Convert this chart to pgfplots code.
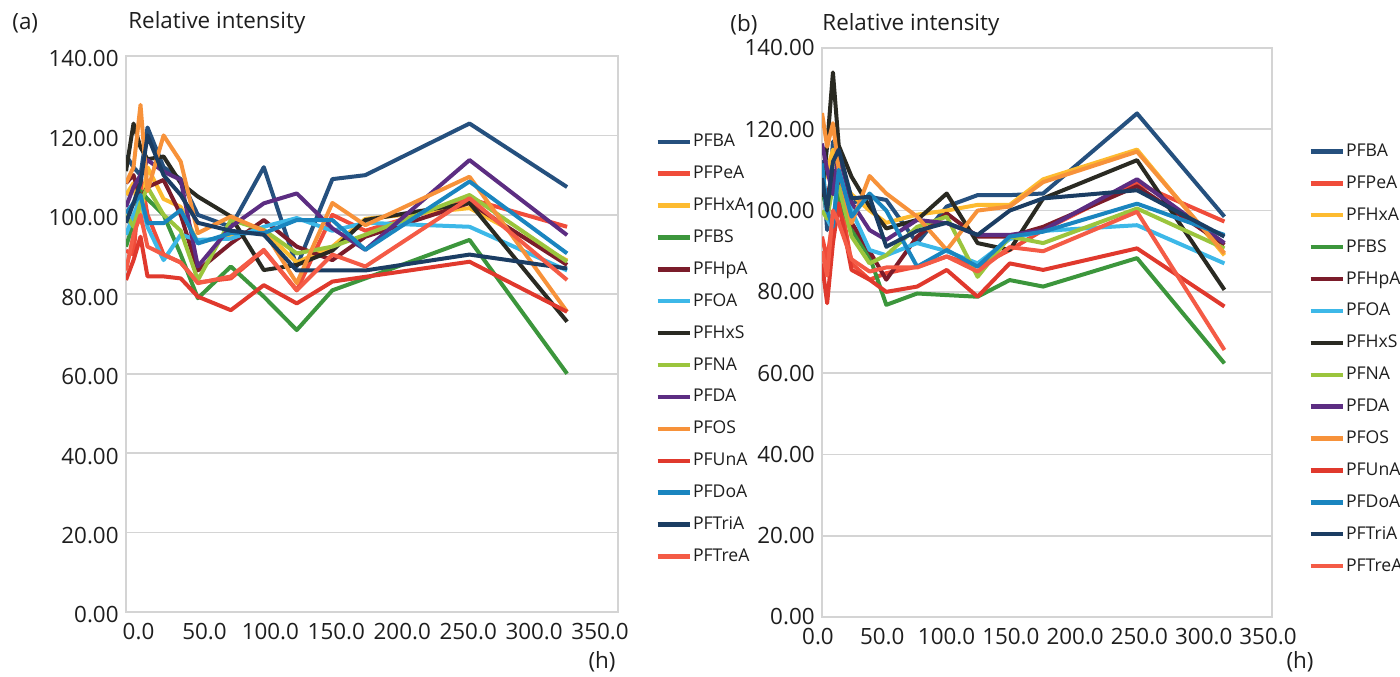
\documentclass[border=0pt]{standalone}
\usepackage{pgfplots}
\pgfplotsset{compat=1.18}
\usepackage{pgfplotstable}
\usepackage{fontspec}
\setmainfont{Open Sans}

\definecolor{cPFBA}{HTML}{25507E}
\definecolor{cPFPeA}{HTML}{F04C3A}
\definecolor{cPFHxA}{HTML}{FDBB30}
\definecolor{cPFBS}{HTML}{3C963C}
\definecolor{cPFHpA}{HTML}{7B1C2A}
\definecolor{cPFOA}{HTML}{3DB8E8}
\definecolor{cPFHxS}{HTML}{2A2A22}
\definecolor{cPFNA}{HTML}{9BC53D}
\definecolor{cPFDA}{HTML}{5C2D82}
\definecolor{cPFOS}{HTML}{F7923A}
\definecolor{cPFUnA}{HTML}{E0392D}
\definecolor{cPFDoA}{HTML}{1A85BF}
\definecolor{cPFTriA}{HTML}{1B3D63}
\definecolor{cPFTreA}{HTML}{F45B46}
\definecolor{gridgray}{HTML}{D4D4D4}
\definecolor{txt}{HTML}{1E1E1E}

\pgfplotstableread{
t PFBA PFPeA PFHxA PFBS PFHpA PFOA PFHxS PFNA PFDA PFOS PFUnA PFDoA PFTriA PFTreA
-9.5 115 91 105 92 108 95 111 100 102 108 83.6 100.4 98 86
-3.8 112 90 108 98 110 100 123 97 107 112 88.6 103 103 95
1.5 110 110 98 106 104 104 117 103 110 127.7 94.5 105 108 100
6.8 122 100 112 104 107 97 114 107 113.8 106 84.5 97.9 120 92
19 112 90 104 100 108.8 88.6 114.7 100 110.9 120 84.5 97.9 110 90
32 109 88 102 90 100 95 108 96 108.8 113.4 84 101.2 105 88
45 100 83 93 79 86 93.7 104.6 83.6 87 95.4 79.4 92.8 98 82.8
70 97 84 95 87 92.8 94 99.6 98.7 97 99.6 76 95.4 96 84.5
95 112 91 96 79.4 98.7 97 86.1 96.2 102.9 96 82.3 95.4 95 91.2
120 87 81 88 71 92 99.2 87.4 90.3 105.4 82.8 77.7 98.7 86 81
147 109 100 92 81 88.6 96 91 92 96.6 103 83.2 98.7 86 90
172 110 96 99 84 94.5 98 98.7 95 91.2 97.4 84.4 91.2 86 87
251 123 104 101.7 93.7 103 97 103 105 113.8 109.6 88.2 108.4 90 104.2
325 107 97 88.5 60 87.4 86 73.1 88.2 94.9 75.6 75.6 90.3 86.5 83.6
}\dataA

\pgfplotstableread{
t PFBA PFPeA PFHxA PFBS PFHpA PFOA PFHxS PFNA PFDA PFOS PFUnA PFDoA PFTriA PFTreA
0 112.4 93.6 106 105 105 110 103.4 100 116.5 124 87 111.6 108 90
4 95.2 88 110 100 103 98 116 98 110 115.7 77.2 100 100 84
8.5 117 98 115 108 110 95.2 134 106 104 121.5 92 96 112 100
13 110 105 108 103 107 112 116 106 114 110 101.8 110 115 97
23 101.8 87 104 95.2 97 100 108.3 93.6 102 96.9 85.4 98.5 103 88
37 103.4 83 100 88.7 90 90.3 101 87 95.2 108.5 83 104.2 103.4 85
50 102.6 84.6 97 76.8 83 89 95.6 89 92.8 104.2 80 100 91.1 86
74 92 86.2 99 79.6 93.6 92 97.7 96 97.7 98.5 81.3 86.2 95 86
97 101 88.7 100 79.2 99.3 90 104.2 98.5 96.9 90.3 85.4 90.3 97 88.7
121 103.8 86.2 101.4 78.8 93.6 87 92 83.7 94 100 78.8 86.2 94 85
146 103.8 90.3 101.4 82.9 93.6 93 90.3 93.6 94 101 87 93.6 100 91
172 104.2 95.2 107.7 81.3 96 95 103 92 95.2 107 85.4 94.8 103 90
245 123.9 106.7 115 88.3 106 96.4 112.4 100.5 107.7 114.5 90.7 101.7 105 99.7
313 98.5 97.3 89 62.4 91.6 87 80.5 90.7 92 89.5 76.4 94 93.6 65.7
}\dataB

\pgfplotsset{
  panel/.style={
    scale only axis,
    ymin=0, ymax=140,
    ytick={0,20,40,60,80,100,120,140},
    yticklabels={0.00,20.00,40.00,60.00,80.00,100.00,120.00,140.00},
    xtick={0,50,100,150,200,250,300,350},
    xticklabels={0.0,50.0,100.0,150.0,200.0,250.0,300.0,350.0},
    ymajorgrids,
    grid style={draw=gridgray, line width=0.9pt},
    axis line style={draw=gridgray, line width=0.9pt},
    major tick length=0pt,
    tick style={draw=none},
    tick label style={font=\fontsize{11.2}{13}\selectfont, text=txt},
    yticklabel style={inner sep=0pt, xshift=-3.5pt},
    xticklabel style={inner sep=0pt, yshift=-5.5pt},
    every axis plot/.append style={line width=2pt, line join=round, mark=none},
    legend cell align=left,
    legend image code/.code={\draw[##1, line width=2.2pt] (0pt,0pt) -- (16pt,0pt);},
    legend style={draw=none, fill=none, inner sep=0pt, row sep=6.75pt,
      font=\fontsize{8.8}{10}\selectfont, text=txt,
      nodes={inner sep=0.6pt, text height=6.5pt, text depth=1.5pt}},
  },
}

\newcommand{\plotall}[1]{%
  \addplot[cPFBA] table[x=t,y=PFBA]{#1};
  \addplot[cPFPeA] table[x=t,y=PFPeA]{#1};
  \addplot[cPFHxA] table[x=t,y=PFHxA]{#1};
  \addplot[cPFBS] table[x=t,y=PFBS]{#1};
  \addplot[cPFHpA] table[x=t,y=PFHpA]{#1};
  \addplot[cPFOA] table[x=t,y=PFOA]{#1};
  \addplot[cPFHxS] table[x=t,y=PFHxS]{#1};
  \addplot[cPFNA] table[x=t,y=PFNA]{#1};
  \addplot[cPFDA] table[x=t,y=PFDA]{#1};
  \addplot[cPFOS] table[x=t,y=PFOS]{#1};
  \addplot[cPFUnA] table[x=t,y=PFUnA]{#1};
  \addplot[cPFDoA] table[x=t,y=PFDoA]{#1};
  \addplot[cPFTriA] table[x=t,y=PFTriA]{#1};
  \addplot[cPFTreA] table[x=t,y=PFTreA]{#1};
  \legend{PFBA,PFPeA,PFHxA,PFBS,PFHpA,PFOA,PFHxS,PFNA,PFDA,PFOS,PFUnA,PFDoA,PFTriA,PFTreA}
}

\begin{document}
\begin{tikzpicture}
\begin{axis}[panel,
  at={(63pt,32pt)}, anchor=south west,
  width=246pt, height=278pt,
  xmin=-9.5, xmax=363.6,
  yticklabel style={yshift=-1.5pt},
  legend style={at={(1.0752,0.863)}, anchor=north west}]
\plotall{\dataA}
\end{axis}

\begin{axis}[panel,
  at={(411pt,29.5pt)}, anchor=south west,
  width=225pt, height=284.5pt,
  xmin=0, xmax=350,
  xticklabel style={xshift=-2pt},
  legend style={at={(1.08,0.835)}, anchor=north west}]
\plotall{\dataB}
\end{axis}

\node[anchor=west, text=txt, font=\fontsize{11.2}{13}\selectfont, inner sep=0pt] at (6pt,326.5pt) {(a)};
\node[anchor=west, text=txt, font=\fontsize{11.2}{13}\selectfont, inner sep=0pt] at (64pt,326.5pt) {Relative intensity};
\node[anchor=west, text=txt, font=\fontsize{11.2}{13}\selectfont, inner sep=0pt] at (365pt,325.5pt) {(b)};
\node[anchor=west, text=txt, font=\fontsize{11.2}{13}\selectfont, inner sep=0pt] at (411pt,325.5pt) {Relative intensity};
\node[text=txt, font=\fontsize{11.2}{13}\selectfont, inner sep=0pt] at (301pt,7pt) {(h)};
\node[text=txt, font=\fontsize{11.2}{13}\selectfont, inner sep=0pt] at (650pt,7pt) {(h)};

\pgfresetboundingbox
\path (0pt,0pt) rectangle (700pt,338pt);
\end{tikzpicture}
\end{document}
